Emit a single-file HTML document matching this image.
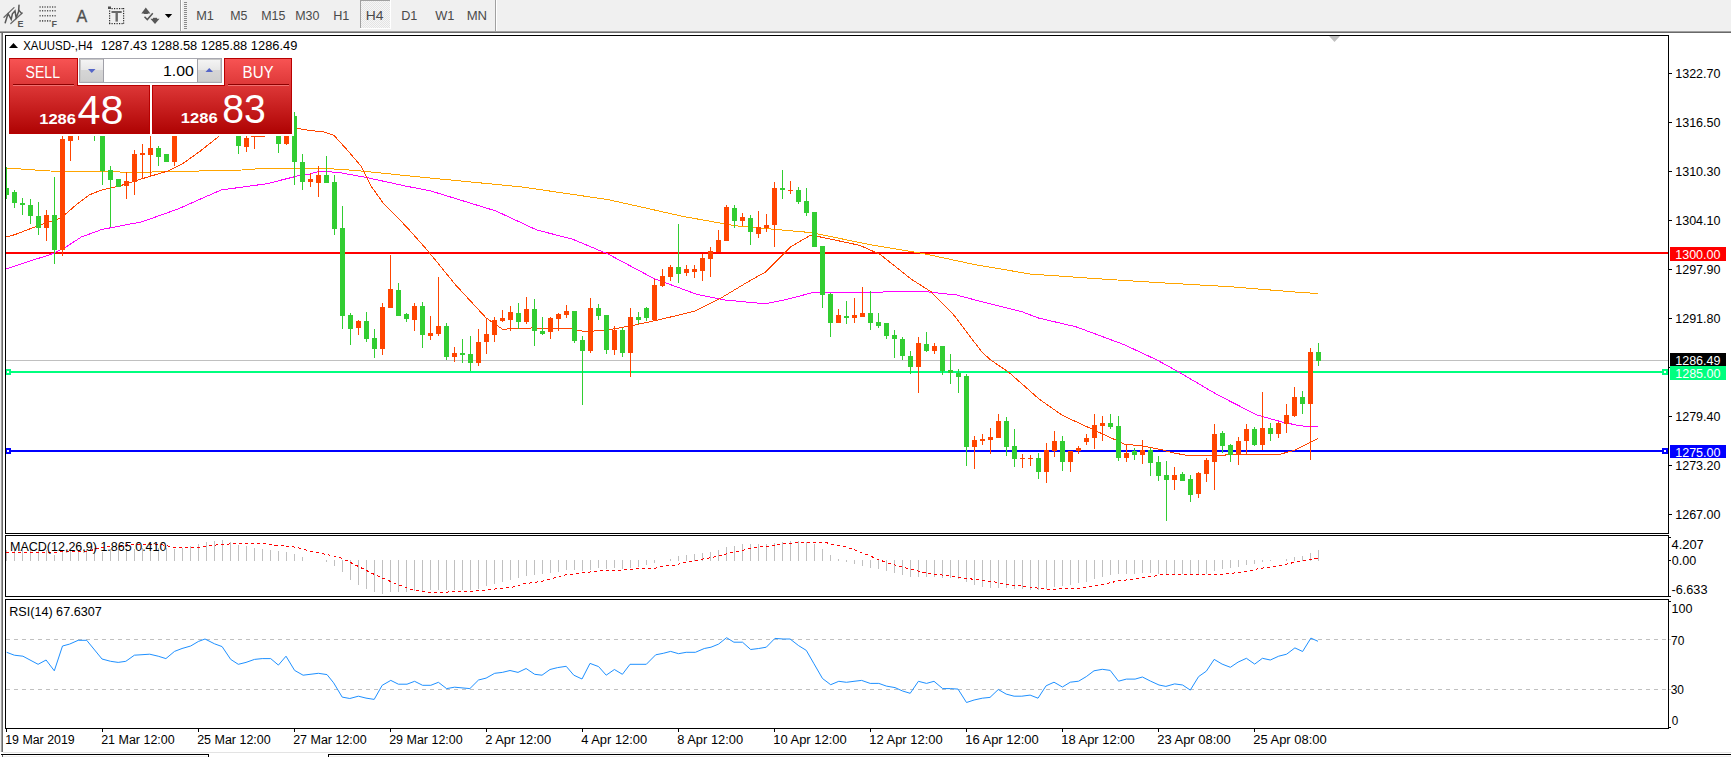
<!DOCTYPE html><html><head><meta charset="utf-8"><style>html,body{margin:0;padding:0;width:1731px;height:757px;overflow:hidden;background:#fff;}</style></head><body><svg width="1731" height="757" viewBox="0 0 1731 757" style="position:absolute;left:0;top:0;font-family:'Liberation Sans', sans-serif">
<defs><linearGradient id="rg" gradientUnits="userSpaceOnUse" x1="0" y1="58" x2="0" y2="134"><stop offset="0" stop-color="#f85454"/><stop offset="0.35" stop-color="#de3838"/><stop offset="1" stop-color="#ae0202"/></linearGradient><linearGradient id="bg" x1="0" y1="0" x2="0" y2="1"><stop offset="0" stop-color="#f4f4f4"/><stop offset="0.5" stop-color="#e6e6e6"/><stop offset="0.5" stop-color="#d6d6d6"/><stop offset="1" stop-color="#cfcfcf"/></linearGradient><pattern id="chk" width="2" height="2" patternUnits="userSpaceOnUse"><rect width="2" height="2" fill="#f6f6f6"/><rect width="1" height="1" fill="#e4e4e4"/><rect x="1" y="1" width="1" height="1" fill="#e4e4e4"/></pattern><clipPath id="cm"><rect x="6" y="36" width="1662" height="497"/></clipPath><clipPath id="cd"><rect x="6" y="536" width="1662" height="60"/></clipPath><clipPath id="cr"><rect x="6" y="600" width="1662" height="128"/></clipPath></defs>
<rect x="0" y="0" width="1731" height="757" fill="#ffffff"/>
<g shape-rendering="crispEdges">
<rect x="0" y="0" width="1731" height="31" fill="#f0f0f0"/>
<rect x="0" y="31" width="1731" height="1" fill="#a0a0a0"/>
<rect x="0" y="32" width="1731" height="1" fill="#696969"/>
<rect x="0" y="33" width="1" height="719" fill="#f0f0f0"/>
<rect x="1" y="33" width="1" height="719" fill="#a0a0a0"/>
<rect x="2" y="33" width="1" height="719" fill="#696969"/>
<rect x="3" y="752" width="1728" height="1" fill="#e3e3e3"/>
<rect x="1" y="754" width="208" height="1" fill="#000"/>
<rect x="208" y="754" width="1" height="3" fill="#000"/>
<rect x="3" y="756" width="205" height="1" fill="#f0f0f0"/>
<rect x="2" y="755" width="1" height="2" fill="#696969"/>
<rect x="328" y="754" width="1403" height="1" fill="#000"/>
<rect x="328" y="754" width="1" height="3" fill="#000"/>
<rect x="330" y="756" width="1401" height="1" fill="#f0f0f0"/>
<rect x="180" y="0" width="1" height="31" fill="#a0a0a0"/><rect x="181" y="0" width="1" height="31" fill="#ffffff"/>
<rect x="184" y="2" width="3" height="1" fill="#8a8a8a"/>
<rect x="184" y="4" width="3" height="1" fill="#8a8a8a"/>
<rect x="184" y="6" width="3" height="1" fill="#8a8a8a"/>
<rect x="184" y="8" width="3" height="1" fill="#8a8a8a"/>
<rect x="184" y="10" width="3" height="1" fill="#8a8a8a"/>
<rect x="184" y="12" width="3" height="1" fill="#8a8a8a"/>
<rect x="184" y="14" width="3" height="1" fill="#8a8a8a"/>
<rect x="184" y="16" width="3" height="1" fill="#8a8a8a"/>
<rect x="184" y="18" width="3" height="1" fill="#8a8a8a"/>
<rect x="184" y="20" width="3" height="1" fill="#8a8a8a"/>
<rect x="184" y="22" width="3" height="1" fill="#8a8a8a"/>
<rect x="184" y="24" width="3" height="1" fill="#8a8a8a"/>
<rect x="184" y="26" width="3" height="1" fill="#8a8a8a"/>
<rect x="184" y="28" width="3" height="1" fill="#8a8a8a"/>
<rect x="495" y="0" width="1" height="31" fill="#a0a0a0"/><rect x="496" y="0" width="1" height="31" fill="#ffffff"/>
<rect x="360" y="0" width="31" height="29" fill="url(#chk)"/>
<rect x="360" y="0" width="31" height="1" fill="#a0a0a0"/><rect x="360" y="0" width="1" height="29" fill="#a0a0a0"/>
<rect x="390" y="0" width="1" height="29" fill="#ffffff"/><rect x="360" y="28" width="31" height="1" fill="#ffffff"/>
</g>
<text x="196.2" y="20.0" font-size="12.5" fill="#4a4a4a" textLength="17.7" lengthAdjust="spacingAndGlyphs">M1</text>
<text x="230.2" y="20.0" font-size="12.5" fill="#4a4a4a" textLength="17.2" lengthAdjust="spacingAndGlyphs">M5</text>
<text x="261.2" y="20.0" font-size="12.5" fill="#4a4a4a" textLength="24.2" lengthAdjust="spacingAndGlyphs">M15</text>
<text x="295.2" y="20.0" font-size="12.5" fill="#4a4a4a" textLength="24.2" lengthAdjust="spacingAndGlyphs">M30</text>
<text x="333.2" y="20.0" font-size="12.5" fill="#4a4a4a" textLength="16.2" lengthAdjust="spacingAndGlyphs">H1</text>
<text x="365.7" y="20.0" font-size="12.5" fill="#4a4a4a" textLength="17.7" lengthAdjust="spacingAndGlyphs">H4</text>
<text x="401.2" y="20.0" font-size="12.5" fill="#4a4a4a" textLength="16.2" lengthAdjust="spacingAndGlyphs">D1</text>
<text x="435.2" y="20.0" font-size="12.5" fill="#4a4a4a" textLength="19.2" lengthAdjust="spacingAndGlyphs">W1</text>
<text x="466.7" y="20.0" font-size="12.5" fill="#4a4a4a" textLength="20.4" lengthAdjust="spacingAndGlyphs">MN</text>
<g stroke="#575757" fill="none" stroke-width="1.6" stroke-linecap="round"><line x1="4" y1="17.2" x2="14" y2="7.6" stroke-width="1.3" stroke="#6a6a6a"/><line x1="10.8" y1="23.6" x2="22.2" y2="13" stroke-width="1.3" stroke="#6a6a6a"/><polyline points="5.2,22.8 7.3,16 8.2,14 11.2,19.3 12.4,13.8 15,11 16.1,17.8 18.6,11.5 19,5.3" stroke-width="1.5"/><line x1="18.6" y1="10" x2="21.6" y2="13.4" stroke-width="1.4"/></g>
<text x="17.6" y="27" font-size="9" font-weight="bold" fill="#575757">E</text>
<line x1="39.5" y1="7" x2="56.5" y2="7" stroke="#575757" stroke-width="1.6" stroke-dasharray="1.2,1.3"/>
<line x1="39.5" y1="10.8" x2="56.5" y2="10.8" stroke="#575757" stroke-width="1.6" stroke-dasharray="1.2,1.3"/>
<line x1="39.5" y1="15.8" x2="56.5" y2="15.8" stroke="#575757" stroke-width="1.6" stroke-dasharray="1.2,1.3"/>
<line x1="39.5" y1="20.9" x2="51" y2="20.9" stroke="#575757" stroke-width="1.6" stroke-dasharray="1.2,1.3"/>
<text x="51.5" y="27" font-size="9" font-weight="bold" fill="#575757">F</text>
<text x="76.4" y="21.8" font-size="16" fill="#505050" stroke="#505050" stroke-width="0.35">A</text>
<rect x="109.0" y="23" width="1.2" height="1.2" fill="#2a2a2a"/>
<rect x="111.5" y="23" width="1.2" height="1.2" fill="#2a2a2a"/>
<rect x="111.5" y="8" width="1.2" height="1.2" fill="#2a2a2a"/>
<rect x="114.0" y="23" width="1.2" height="1.2" fill="#2a2a2a"/>
<rect x="114.0" y="8" width="1.2" height="1.2" fill="#2a2a2a"/>
<rect x="116.5" y="23" width="1.2" height="1.2" fill="#2a2a2a"/>
<rect x="116.5" y="8" width="1.2" height="1.2" fill="#2a2a2a"/>
<rect x="119.0" y="23" width="1.2" height="1.2" fill="#2a2a2a"/>
<rect x="119.0" y="8" width="1.2" height="1.2" fill="#2a2a2a"/>
<rect x="121.5" y="23" width="1.2" height="1.2" fill="#2a2a2a"/>
<rect x="121.5" y="8" width="1.2" height="1.2" fill="#2a2a2a"/>
<rect x="109" y="10.5" width="1.2" height="1.2" fill="#2a2a2a"/>
<rect x="123" y="10.5" width="1.2" height="1.2" fill="#2a2a2a"/>
<rect x="109" y="12.9" width="1.2" height="1.2" fill="#2a2a2a"/>
<rect x="123" y="12.9" width="1.2" height="1.2" fill="#2a2a2a"/>
<rect x="109" y="15.3" width="1.2" height="1.2" fill="#2a2a2a"/>
<rect x="123" y="15.3" width="1.2" height="1.2" fill="#2a2a2a"/>
<rect x="109" y="17.7" width="1.2" height="1.2" fill="#2a2a2a"/>
<rect x="123" y="17.7" width="1.2" height="1.2" fill="#2a2a2a"/>
<rect x="109" y="20.1" width="1.2" height="1.2" fill="#2a2a2a"/>
<rect x="123" y="20.1" width="1.2" height="1.2" fill="#2a2a2a"/>
<rect x="109" y="22.5" width="1.2" height="1.2" fill="#2a2a2a"/>
<rect x="123" y="22.5" width="1.2" height="1.2" fill="#2a2a2a"/>
<rect x="123" y="8" width="1.2" height="1.2" fill="#2a2a2a"/>
<rect x="108" y="6.5" width="3" height="2.5" fill="#505050"/>
<rect x="111.5" y="11" width="10.2" height="2" fill="#6a6a6a"/><rect x="115.5" y="12" width="2.4" height="9.6" fill="#6a6a6a"/>
<polygon points="141.3,13.5 145.8,7.6 150.4,13.5" fill="#575757"/><rect x="143.8" y="12.5" width="4" height="1.5" fill="#575757"/>
<polyline points="144.5,16.8 147.3,19.6 152.8,13.2" fill="none" stroke="#575757" stroke-width="1.5"/>
<polygon points="150.4,18.8 159.5,18.8 155,24" fill="#575757"/><rect x="153" y="17.8" width="4" height="1.5" fill="#575757"/>
<polygon points="164.8,14 172.2,14 168.5,18" fill="#000"/>
<g shape-rendering="crispEdges">
</g>
<g clip-path="url(#cm)">
<g shape-rendering="crispEdges">
<rect x="6" y="252" width="1662" height="2" fill="#ff0000"/>
<rect x="6" y="360" width="1662" height="1" fill="#c0c0c0"/>
<rect x="6" y="371" width="1662" height="2" fill="#00ff7f"/>
<rect x="6" y="450" width="1662" height="2" fill="#0000ff"/>
</g>
<g fill="none" stroke-width="1" shape-rendering="crispEdges">
<polyline points="6.0,168.0 50.0,171.0 107.0,171.6 132.0,172.4 178.0,171.5 225.0,170.4 242.0,170.0 258.0,168.8 331.0,168.8 356.0,170.5 430.0,178.0 521.5,186.9 608.0,199.6 684.0,216.6 735.0,225.7 811.0,232.6 870.0,244.6 923.5,253.6 974.4,264.5 1030.0,274.0 1101.5,279.0 1165.0,283.0 1228.6,286.6 1300.0,292.4 1318.0,293.5" stroke="#ffa500"/>
<polyline points="6.0,268.9 25.4,262.5 50.8,254.4 66.0,247.0 81.3,237.0 101.7,229.5 142.0,221.8 178.0,209.0 221.0,190.0 267.0,183.7 297.4,176.0 308.0,174.6 316.0,172.2 322.0,171.3 339.0,172.5 366.0,177.4 406.7,186.3 430.0,190.7 496.0,211.0 536.8,230.0 572.0,239.0 608.0,254.0 653.7,278.4 697.0,294.4 725.0,300.0 765.5,303.8 786.0,299.5 814.0,292.3 883.0,292.0 926.0,291.7 956.6,295.0 982.0,301.8 1022.7,312.0 1038.0,317.9 1076.0,326.8 1124.0,344.6 1157.0,360.0 1178.0,371.6 1217.3,394.7 1256.6,414.8 1282.0,422.0 1300.5,425.9 1318.0,426.6" stroke="#ff00ff"/>
<polyline points="6.0,237.0 15.0,234.6 38.0,225.7 61.0,218.0 76.0,205.0 89.0,195.0 101.7,190.0 119.5,186.0 134.7,181.0 152.5,175.6 167.8,171.0 183.0,163.4 200.8,150.7 220.0,135.4 250.0,126.0 296.0,128.3 307.0,130.0 315.0,131.0 323.6,131.8 333.8,135.2 345.0,147.5 361.0,166.0 371.0,186.0 383.8,204.0 406.7,227.0 428.0,251.0 455.4,284.7 486.0,317.8 502.4,329.2 531.7,328.0 572.0,329.0 585.0,331.7 608.0,330.0 633.0,325.4 658.8,319.8 694.0,311.4 722.0,297.4 747.7,282.0 765.5,272.0 791.0,246.6 811.0,235.0 841.8,241.5 860.0,245.4 880.0,254.3 911.0,279.0 931.0,291.7 954.0,315.3 982.0,352.2 990.8,360.0 1009.3,372.7 1039.4,399.3 1062.5,415.5 1092.5,429.3 1124.9,444.3 1143.3,446.0 1161.8,449.7 1171.0,452.4 1189.6,455.9 1209.2,455.9 1231.2,454.7 1279.7,454.3 1293.6,450.6 1318.0,438.6" stroke="#ff4500"/>
</g>
<g shape-rendering="crispEdges">
<rect x="6" y="167" width="1" height="32" fill="#32cd32"/>
<rect x="4" y="188" width="5" height="7" fill="#32cd32"/>
<rect x="14" y="190" width="1" height="18" fill="#32cd32"/>
<rect x="12" y="192" width="5" height="11" fill="#32cd32"/>
<rect x="22" y="198" width="1" height="17" fill="#32cd32"/>
<rect x="20" y="203" width="5" height="2" fill="#32cd32"/>
<rect x="30" y="199" width="1" height="25" fill="#32cd32"/>
<rect x="28" y="205" width="5" height="11" fill="#32cd32"/>
<rect x="38" y="202" width="1" height="33" fill="#32cd32"/>
<rect x="36" y="216" width="5" height="12" fill="#32cd32"/>
<rect x="46" y="210" width="1" height="31" fill="#ff4500"/>
<rect x="44" y="215" width="5" height="13" fill="#ff4500"/>
<rect x="54" y="177" width="1" height="87" fill="#32cd32"/>
<rect x="52" y="215" width="5" height="35" fill="#32cd32"/>
<rect x="62" y="120" width="1" height="136" fill="#ff4500"/>
<rect x="60" y="139" width="5" height="111" fill="#ff4500"/>
<rect x="70" y="120" width="1" height="41" fill="#ff4500"/>
<rect x="68" y="125" width="5" height="16" fill="#ff4500"/>
<rect x="78" y="120" width="1" height="20" fill="#ff4500"/>
<rect x="76" y="122" width="5" height="6" fill="#ff4500"/>
<rect x="94" y="120" width="1" height="21" fill="#32cd32"/>
<rect x="92" y="122" width="5" height="8" fill="#32cd32"/>
<rect x="102" y="125" width="1" height="60" fill="#32cd32"/>
<rect x="100" y="128" width="5" height="43" fill="#32cd32"/>
<rect x="110" y="166" width="1" height="61" fill="#32cd32"/>
<rect x="108" y="170" width="5" height="10" fill="#32cd32"/>
<rect x="118" y="179" width="1" height="8" fill="#32cd32"/>
<rect x="116" y="179" width="5" height="8" fill="#32cd32"/>
<rect x="126" y="172" width="1" height="27" fill="#ff4500"/>
<rect x="124" y="181" width="5" height="5" fill="#ff4500"/>
<rect x="134" y="150" width="1" height="45" fill="#ff4500"/>
<rect x="132" y="154" width="5" height="28" fill="#ff4500"/>
<rect x="142" y="144" width="1" height="35" fill="#ff4500"/>
<rect x="140" y="153" width="5" height="2" fill="#ff4500"/>
<rect x="150" y="136" width="1" height="41" fill="#ff4500"/>
<rect x="148" y="148" width="5" height="7" fill="#ff4500"/>
<rect x="158" y="146" width="1" height="20" fill="#32cd32"/>
<rect x="156" y="148" width="5" height="9" fill="#32cd32"/>
<rect x="166" y="154" width="1" height="8" fill="#32cd32"/>
<rect x="164" y="154" width="5" height="8" fill="#32cd32"/>
<rect x="174" y="130" width="1" height="36" fill="#ff4500"/>
<rect x="172" y="130" width="5" height="32" fill="#ff4500"/>
<rect x="238" y="125" width="1" height="29" fill="#32cd32"/>
<rect x="236" y="128" width="5" height="18" fill="#32cd32"/>
<rect x="246" y="136" width="1" height="16" fill="#ff4500"/>
<rect x="244" y="138" width="5" height="9" fill="#ff4500"/>
<rect x="254" y="120" width="1" height="29" fill="#ff4500"/>
<rect x="252" y="125" width="5" height="12" fill="#ff4500"/>
<rect x="262" y="120" width="1" height="16" fill="#ff4500"/>
<rect x="260" y="122" width="5" height="14" fill="#ff4500"/>
<rect x="278" y="125" width="1" height="28" fill="#32cd32"/>
<rect x="276" y="128" width="5" height="16" fill="#32cd32"/>
<rect x="286" y="125" width="1" height="20" fill="#ff4500"/>
<rect x="284" y="128" width="5" height="16" fill="#ff4500"/>
<rect x="294" y="112" width="1" height="73" fill="#32cd32"/>
<rect x="292" y="116" width="5" height="46" fill="#32cd32"/>
<rect x="302" y="154" width="1" height="36" fill="#32cd32"/>
<rect x="300" y="162" width="5" height="20" fill="#32cd32"/>
<rect x="310" y="173" width="1" height="14" fill="#ff4500"/>
<rect x="308" y="179" width="5" height="3" fill="#ff4500"/>
<rect x="318" y="166" width="1" height="31" fill="#ff4500"/>
<rect x="316" y="175" width="5" height="8" fill="#ff4500"/>
<rect x="326" y="156" width="1" height="27" fill="#32cd32"/>
<rect x="324" y="175" width="5" height="8" fill="#32cd32"/>
<rect x="334" y="175" width="1" height="60" fill="#32cd32"/>
<rect x="332" y="182" width="5" height="47" fill="#32cd32"/>
<rect x="342" y="206" width="1" height="123" fill="#32cd32"/>
<rect x="340" y="228" width="5" height="88" fill="#32cd32"/>
<rect x="350" y="313" width="1" height="32" fill="#32cd32"/>
<rect x="348" y="315" width="5" height="14" fill="#32cd32"/>
<rect x="358" y="320" width="1" height="15" fill="#ff4500"/>
<rect x="356" y="321" width="5" height="7" fill="#ff4500"/>
<rect x="366" y="312" width="1" height="30" fill="#32cd32"/>
<rect x="364" y="321" width="5" height="18" fill="#32cd32"/>
<rect x="374" y="329" width="1" height="29" fill="#32cd32"/>
<rect x="372" y="338" width="5" height="11" fill="#32cd32"/>
<rect x="382" y="303" width="1" height="52" fill="#ff4500"/>
<rect x="380" y="307" width="5" height="42" fill="#ff4500"/>
<rect x="390" y="255" width="1" height="53" fill="#ff4500"/>
<rect x="388" y="289" width="5" height="19" fill="#ff4500"/>
<rect x="398" y="283" width="1" height="33" fill="#32cd32"/>
<rect x="396" y="290" width="5" height="26" fill="#32cd32"/>
<rect x="406" y="313" width="1" height="9" fill="#32cd32"/>
<rect x="404" y="314" width="5" height="5" fill="#32cd32"/>
<rect x="414" y="303" width="1" height="28" fill="#ff4500"/>
<rect x="412" y="306" width="5" height="14" fill="#ff4500"/>
<rect x="422" y="302" width="1" height="46" fill="#32cd32"/>
<rect x="420" y="306" width="5" height="29" fill="#32cd32"/>
<rect x="430" y="316" width="1" height="24" fill="#ff4500"/>
<rect x="428" y="333" width="5" height="3" fill="#ff4500"/>
<rect x="438" y="277" width="1" height="59" fill="#ff4500"/>
<rect x="436" y="326" width="5" height="8" fill="#ff4500"/>
<rect x="446" y="323" width="1" height="37" fill="#32cd32"/>
<rect x="444" y="326" width="5" height="31" fill="#32cd32"/>
<rect x="454" y="347" width="1" height="15" fill="#ff4500"/>
<rect x="452" y="353" width="5" height="4" fill="#ff4500"/>
<rect x="462" y="339" width="1" height="24" fill="#32cd32"/>
<rect x="460" y="353" width="5" height="2" fill="#32cd32"/>
<rect x="470" y="336" width="1" height="35" fill="#32cd32"/>
<rect x="468" y="354" width="5" height="9" fill="#32cd32"/>
<rect x="478" y="329" width="1" height="37" fill="#ff4500"/>
<rect x="476" y="342" width="5" height="21" fill="#ff4500"/>
<rect x="486" y="319" width="1" height="35" fill="#ff4500"/>
<rect x="484" y="334" width="5" height="8" fill="#ff4500"/>
<rect x="494" y="317" width="1" height="25" fill="#ff4500"/>
<rect x="492" y="320" width="5" height="15" fill="#ff4500"/>
<rect x="502" y="310" width="1" height="12" fill="#ff4500"/>
<rect x="500" y="318" width="5" height="3" fill="#ff4500"/>
<rect x="510" y="306" width="1" height="25" fill="#ff4500"/>
<rect x="508" y="312" width="5" height="8" fill="#ff4500"/>
<rect x="518" y="303" width="1" height="26" fill="#32cd32"/>
<rect x="516" y="313" width="5" height="9" fill="#32cd32"/>
<rect x="526" y="297" width="1" height="27" fill="#ff4500"/>
<rect x="524" y="309" width="5" height="13" fill="#ff4500"/>
<rect x="534" y="299" width="1" height="47" fill="#32cd32"/>
<rect x="532" y="309" width="5" height="22" fill="#32cd32"/>
<rect x="542" y="317" width="1" height="18" fill="#32cd32"/>
<rect x="540" y="331" width="5" height="3" fill="#32cd32"/>
<rect x="550" y="317" width="1" height="22" fill="#ff4500"/>
<rect x="548" y="318" width="5" height="14" fill="#ff4500"/>
<rect x="558" y="313" width="1" height="18" fill="#ff4500"/>
<rect x="556" y="314" width="5" height="5" fill="#ff4500"/>
<rect x="566" y="305" width="1" height="13" fill="#ff4500"/>
<rect x="564" y="311" width="5" height="4" fill="#ff4500"/>
<rect x="574" y="311" width="1" height="32" fill="#32cd32"/>
<rect x="572" y="311" width="5" height="30" fill="#32cd32"/>
<rect x="582" y="336" width="1" height="69" fill="#32cd32"/>
<rect x="580" y="340" width="5" height="11" fill="#32cd32"/>
<rect x="590" y="298" width="1" height="55" fill="#ff4500"/>
<rect x="588" y="308" width="5" height="43" fill="#ff4500"/>
<rect x="598" y="304" width="1" height="16" fill="#32cd32"/>
<rect x="596" y="308" width="5" height="8" fill="#32cd32"/>
<rect x="606" y="315" width="1" height="39" fill="#32cd32"/>
<rect x="604" y="315" width="5" height="35" fill="#32cd32"/>
<rect x="614" y="326" width="1" height="29" fill="#ff4500"/>
<rect x="612" y="330" width="5" height="20" fill="#ff4500"/>
<rect x="622" y="328" width="1" height="29" fill="#32cd32"/>
<rect x="620" y="330" width="5" height="23" fill="#32cd32"/>
<rect x="630" y="308" width="1" height="69" fill="#ff4500"/>
<rect x="628" y="317" width="5" height="36" fill="#ff4500"/>
<rect x="638" y="312" width="1" height="12" fill="#32cd32"/>
<rect x="636" y="317" width="5" height="3" fill="#32cd32"/>
<rect x="646" y="307" width="1" height="14" fill="#32cd32"/>
<rect x="644" y="308" width="5" height="10" fill="#32cd32"/>
<rect x="654" y="279" width="1" height="41" fill="#ff4500"/>
<rect x="652" y="285" width="5" height="35" fill="#ff4500"/>
<rect x="662" y="269" width="1" height="18" fill="#ff4500"/>
<rect x="660" y="276" width="5" height="10" fill="#ff4500"/>
<rect x="670" y="265" width="1" height="16" fill="#ff4500"/>
<rect x="668" y="267" width="5" height="10" fill="#ff4500"/>
<rect x="678" y="224" width="1" height="59" fill="#32cd32"/>
<rect x="676" y="267" width="5" height="7" fill="#32cd32"/>
<rect x="686" y="265" width="1" height="11" fill="#ff4500"/>
<rect x="684" y="269" width="5" height="4" fill="#ff4500"/>
<rect x="694" y="265" width="1" height="13" fill="#ff4500"/>
<rect x="692" y="269" width="5" height="3" fill="#ff4500"/>
<rect x="702" y="254" width="1" height="27" fill="#ff4500"/>
<rect x="700" y="258" width="5" height="13" fill="#ff4500"/>
<rect x="710" y="247" width="1" height="30" fill="#ff4500"/>
<rect x="708" y="251" width="5" height="8" fill="#ff4500"/>
<rect x="718" y="230" width="1" height="22" fill="#ff4500"/>
<rect x="716" y="240" width="5" height="12" fill="#ff4500"/>
<rect x="726" y="205" width="1" height="36" fill="#ff4500"/>
<rect x="724" y="207" width="5" height="34" fill="#ff4500"/>
<rect x="734" y="205" width="1" height="23" fill="#32cd32"/>
<rect x="732" y="208" width="5" height="13" fill="#32cd32"/>
<rect x="742" y="213" width="1" height="13" fill="#ff4500"/>
<rect x="740" y="217" width="5" height="4" fill="#ff4500"/>
<rect x="750" y="215" width="1" height="30" fill="#32cd32"/>
<rect x="748" y="218" width="5" height="14" fill="#32cd32"/>
<rect x="758" y="211" width="1" height="27" fill="#ff4500"/>
<rect x="756" y="227" width="5" height="7" fill="#ff4500"/>
<rect x="766" y="214" width="1" height="18" fill="#ff4500"/>
<rect x="764" y="225" width="5" height="3" fill="#ff4500"/>
<rect x="774" y="182" width="1" height="65" fill="#ff4500"/>
<rect x="772" y="188" width="5" height="37" fill="#ff4500"/>
<rect x="782" y="170" width="1" height="29" fill="#32cd32"/>
<rect x="780" y="188" width="5" height="2" fill="#32cd32"/>
<rect x="790" y="181" width="1" height="13" fill="#ff4500"/>
<rect x="788" y="190" width="5" height="1" fill="#ff4500"/>
<rect x="798" y="187" width="1" height="17" fill="#32cd32"/>
<rect x="796" y="190" width="5" height="12" fill="#32cd32"/>
<rect x="806" y="188" width="1" height="28" fill="#32cd32"/>
<rect x="804" y="201" width="5" height="12" fill="#32cd32"/>
<rect x="814" y="212" width="1" height="35" fill="#32cd32"/>
<rect x="812" y="212" width="5" height="35" fill="#32cd32"/>
<rect x="822" y="246" width="1" height="62" fill="#32cd32"/>
<rect x="820" y="246" width="5" height="49" fill="#32cd32"/>
<rect x="830" y="293" width="1" height="44" fill="#32cd32"/>
<rect x="828" y="294" width="5" height="29" fill="#32cd32"/>
<rect x="838" y="309" width="1" height="14" fill="#ff4500"/>
<rect x="836" y="315" width="5" height="8" fill="#ff4500"/>
<rect x="846" y="301" width="1" height="23" fill="#32cd32"/>
<rect x="844" y="316" width="5" height="2" fill="#32cd32"/>
<rect x="854" y="298" width="1" height="25" fill="#ff4500"/>
<rect x="852" y="315" width="5" height="3" fill="#ff4500"/>
<rect x="862" y="287" width="1" height="30" fill="#ff4500"/>
<rect x="860" y="313" width="5" height="4" fill="#ff4500"/>
<rect x="870" y="291" width="1" height="39" fill="#32cd32"/>
<rect x="868" y="313" width="5" height="10" fill="#32cd32"/>
<rect x="878" y="313" width="1" height="15" fill="#32cd32"/>
<rect x="876" y="322" width="5" height="4" fill="#32cd32"/>
<rect x="886" y="323" width="1" height="16" fill="#32cd32"/>
<rect x="884" y="323" width="5" height="13" fill="#32cd32"/>
<rect x="894" y="330" width="1" height="28" fill="#32cd32"/>
<rect x="892" y="335" width="5" height="4" fill="#32cd32"/>
<rect x="902" y="337" width="1" height="23" fill="#32cd32"/>
<rect x="900" y="339" width="5" height="17" fill="#32cd32"/>
<rect x="910" y="351" width="1" height="23" fill="#32cd32"/>
<rect x="908" y="356" width="5" height="11" fill="#32cd32"/>
<rect x="918" y="337" width="1" height="56" fill="#ff4500"/>
<rect x="916" y="343" width="5" height="24" fill="#ff4500"/>
<rect x="926" y="332" width="1" height="20" fill="#32cd32"/>
<rect x="924" y="344" width="5" height="7" fill="#32cd32"/>
<rect x="934" y="343" width="1" height="11" fill="#ff4500"/>
<rect x="932" y="346" width="5" height="5" fill="#ff4500"/>
<rect x="942" y="346" width="1" height="29" fill="#32cd32"/>
<rect x="940" y="346" width="5" height="25" fill="#32cd32"/>
<rect x="950" y="354" width="1" height="30" fill="#32cd32"/>
<rect x="948" y="370" width="5" height="3" fill="#32cd32"/>
<rect x="958" y="369" width="1" height="24" fill="#32cd32"/>
<rect x="956" y="373" width="5" height="4" fill="#32cd32"/>
<rect x="966" y="374" width="1" height="92" fill="#32cd32"/>
<rect x="964" y="376" width="5" height="71" fill="#32cd32"/>
<rect x="974" y="436" width="1" height="33" fill="#ff4500"/>
<rect x="972" y="440" width="5" height="7" fill="#ff4500"/>
<rect x="982" y="434" width="1" height="11" fill="#ff4500"/>
<rect x="980" y="439" width="5" height="2" fill="#ff4500"/>
<rect x="990" y="428" width="1" height="26" fill="#ff4500"/>
<rect x="988" y="437" width="5" height="3" fill="#ff4500"/>
<rect x="998" y="414" width="1" height="24" fill="#ff4500"/>
<rect x="996" y="421" width="5" height="17" fill="#ff4500"/>
<rect x="1006" y="417" width="1" height="39" fill="#32cd32"/>
<rect x="1004" y="421" width="5" height="26" fill="#32cd32"/>
<rect x="1014" y="429" width="1" height="38" fill="#32cd32"/>
<rect x="1012" y="446" width="5" height="13" fill="#32cd32"/>
<rect x="1022" y="454" width="1" height="14" fill="#ff4500"/>
<rect x="1020" y="458" width="5" height="1" fill="#ff4500"/>
<rect x="1030" y="455" width="1" height="11" fill="#ff4500"/>
<rect x="1028" y="458" width="5" height="1" fill="#ff4500"/>
<rect x="1038" y="453" width="1" height="26" fill="#32cd32"/>
<rect x="1036" y="458" width="5" height="14" fill="#32cd32"/>
<rect x="1046" y="443" width="1" height="40" fill="#ff4500"/>
<rect x="1044" y="450" width="5" height="22" fill="#ff4500"/>
<rect x="1054" y="431" width="1" height="26" fill="#ff4500"/>
<rect x="1052" y="441" width="5" height="10" fill="#ff4500"/>
<rect x="1062" y="436" width="1" height="35" fill="#32cd32"/>
<rect x="1060" y="441" width="5" height="21" fill="#32cd32"/>
<rect x="1070" y="451" width="1" height="21" fill="#ff4500"/>
<rect x="1068" y="451" width="5" height="11" fill="#ff4500"/>
<rect x="1078" y="446" width="1" height="8" fill="#ff4500"/>
<rect x="1076" y="448" width="5" height="3" fill="#ff4500"/>
<rect x="1086" y="434" width="1" height="11" fill="#ff4500"/>
<rect x="1084" y="438" width="5" height="4" fill="#ff4500"/>
<rect x="1094" y="414" width="1" height="35" fill="#ff4500"/>
<rect x="1092" y="425" width="5" height="13" fill="#ff4500"/>
<rect x="1102" y="416" width="1" height="25" fill="#ff4500"/>
<rect x="1100" y="423" width="5" height="3" fill="#ff4500"/>
<rect x="1110" y="414" width="1" height="15" fill="#32cd32"/>
<rect x="1108" y="423" width="5" height="4" fill="#32cd32"/>
<rect x="1118" y="416" width="1" height="45" fill="#32cd32"/>
<rect x="1116" y="426" width="5" height="32" fill="#32cd32"/>
<rect x="1126" y="445" width="1" height="17" fill="#ff4500"/>
<rect x="1124" y="453" width="5" height="5" fill="#ff4500"/>
<rect x="1134" y="448" width="1" height="12" fill="#32cd32"/>
<rect x="1132" y="451" width="5" height="4" fill="#32cd32"/>
<rect x="1142" y="440" width="1" height="24" fill="#ff4500"/>
<rect x="1140" y="450" width="5" height="5" fill="#ff4500"/>
<rect x="1150" y="448" width="1" height="28" fill="#32cd32"/>
<rect x="1148" y="450" width="5" height="13" fill="#32cd32"/>
<rect x="1158" y="456" width="1" height="25" fill="#32cd32"/>
<rect x="1156" y="462" width="5" height="14" fill="#32cd32"/>
<rect x="1166" y="461" width="1" height="60" fill="#32cd32"/>
<rect x="1164" y="475" width="5" height="5" fill="#32cd32"/>
<rect x="1174" y="467" width="1" height="23" fill="#ff4500"/>
<rect x="1172" y="475" width="5" height="5" fill="#ff4500"/>
<rect x="1182" y="472" width="1" height="9" fill="#32cd32"/>
<rect x="1180" y="474" width="5" height="7" fill="#32cd32"/>
<rect x="1190" y="475" width="1" height="27" fill="#32cd32"/>
<rect x="1188" y="479" width="5" height="16" fill="#32cd32"/>
<rect x="1198" y="472" width="1" height="26" fill="#ff4500"/>
<rect x="1196" y="473" width="5" height="21" fill="#ff4500"/>
<rect x="1206" y="458" width="1" height="24" fill="#ff4500"/>
<rect x="1204" y="460" width="5" height="14" fill="#ff4500"/>
<rect x="1214" y="424" width="1" height="66" fill="#ff4500"/>
<rect x="1212" y="434" width="5" height="28" fill="#ff4500"/>
<rect x="1222" y="431" width="1" height="22" fill="#32cd32"/>
<rect x="1220" y="433" width="5" height="13" fill="#32cd32"/>
<rect x="1230" y="444" width="1" height="18" fill="#32cd32"/>
<rect x="1228" y="445" width="5" height="10" fill="#32cd32"/>
<rect x="1238" y="437" width="1" height="28" fill="#ff4500"/>
<rect x="1236" y="441" width="5" height="14" fill="#ff4500"/>
<rect x="1246" y="424" width="1" height="30" fill="#ff4500"/>
<rect x="1244" y="429" width="5" height="12" fill="#ff4500"/>
<rect x="1254" y="427" width="1" height="19" fill="#32cd32"/>
<rect x="1252" y="429" width="5" height="16" fill="#32cd32"/>
<rect x="1262" y="392" width="1" height="58" fill="#ff4500"/>
<rect x="1260" y="428" width="5" height="17" fill="#ff4500"/>
<rect x="1270" y="423" width="1" height="18" fill="#32cd32"/>
<rect x="1268" y="428" width="5" height="6" fill="#32cd32"/>
<rect x="1278" y="422" width="1" height="16" fill="#ff4500"/>
<rect x="1276" y="423" width="5" height="11" fill="#ff4500"/>
<rect x="1286" y="404" width="1" height="29" fill="#ff4500"/>
<rect x="1284" y="415" width="5" height="9" fill="#ff4500"/>
<rect x="1294" y="387" width="1" height="30" fill="#ff4500"/>
<rect x="1292" y="397" width="5" height="19" fill="#ff4500"/>
<rect x="1302" y="391" width="1" height="23" fill="#32cd32"/>
<rect x="1300" y="397" width="5" height="7" fill="#32cd32"/>
<rect x="1310" y="348" width="1" height="112" fill="#ff4500"/>
<rect x="1308" y="352" width="5" height="52" fill="#ff4500"/>
<rect x="1318" y="343" width="1" height="23" fill="#32cd32"/>
<rect x="1316" y="352" width="5" height="9" fill="#32cd32"/>
</g>
<rect x="251" y="136" width="14" height="1" fill="#ff4500" shape-rendering="crispEdges"/>
<g shape-rendering="crispEdges">
<rect x="5" y="369" width="6" height="6" fill="#00ff7f"/><rect x="7" y="371" width="2" height="2" fill="#fff"/>
<rect x="1662" y="369" width="6" height="6" fill="#00ff7f"/><rect x="1664" y="371" width="2" height="2" fill="#fff"/>
<rect x="5" y="448" width="6" height="6" fill="#0000ff"/><rect x="7" y="450" width="2" height="2" fill="#fff"/>
<rect x="1662" y="448" width="6" height="6" fill="#0000ff"/><rect x="1664" y="450" width="2" height="2" fill="#fff"/>
</g>
<rect x="6" y="53" width="288" height="83" fill="#fff" shape-rendering="crispEdges"/>
</g>
<g clip-path="url(#cd)">
<g shape-rendering="crispEdges">
<rect x="6" y="550" width="1" height="11" fill="#c0c0c0"/>
<rect x="14" y="550" width="1" height="11" fill="#c0c0c0"/>
<rect x="22" y="550" width="1" height="11" fill="#c0c0c0"/>
<rect x="30" y="550" width="1" height="11" fill="#c0c0c0"/>
<rect x="38" y="550" width="1" height="11" fill="#c0c0c0"/>
<rect x="46" y="550" width="1" height="11" fill="#c0c0c0"/>
<rect x="54" y="555" width="1" height="6" fill="#c0c0c0"/>
<rect x="62" y="550" width="1" height="11" fill="#c0c0c0"/>
<rect x="70" y="550" width="1" height="11" fill="#c0c0c0"/>
<rect x="78" y="550" width="1" height="11" fill="#c0c0c0"/>
<rect x="86" y="550" width="1" height="11" fill="#c0c0c0"/>
<rect x="94" y="548" width="1" height="13" fill="#c0c0c0"/>
<rect x="102" y="552" width="1" height="9" fill="#c0c0c0"/>
<rect x="110" y="549" width="1" height="12" fill="#c0c0c0"/>
<rect x="118" y="549" width="1" height="12" fill="#c0c0c0"/>
<rect x="126" y="549" width="1" height="12" fill="#c0c0c0"/>
<rect x="134" y="549" width="1" height="12" fill="#c0c0c0"/>
<rect x="142" y="548" width="1" height="13" fill="#c0c0c0"/>
<rect x="150" y="549" width="1" height="12" fill="#c0c0c0"/>
<rect x="158" y="548" width="1" height="13" fill="#c0c0c0"/>
<rect x="166" y="548" width="1" height="13" fill="#c0c0c0"/>
<rect x="174" y="549" width="1" height="12" fill="#c0c0c0"/>
<rect x="182" y="548" width="1" height="13" fill="#c0c0c0"/>
<rect x="190" y="546" width="1" height="15" fill="#c0c0c0"/>
<rect x="198" y="544" width="1" height="17" fill="#c0c0c0"/>
<rect x="206" y="542" width="1" height="19" fill="#c0c0c0"/>
<rect x="214" y="541" width="1" height="20" fill="#c0c0c0"/>
<rect x="222" y="540" width="1" height="21" fill="#c0c0c0"/>
<rect x="230" y="542" width="1" height="19" fill="#c0c0c0"/>
<rect x="238" y="545" width="1" height="16" fill="#c0c0c0"/>
<rect x="246" y="546" width="1" height="15" fill="#c0c0c0"/>
<rect x="254" y="548" width="1" height="13" fill="#c0c0c0"/>
<rect x="262" y="549" width="1" height="12" fill="#c0c0c0"/>
<rect x="270" y="550" width="1" height="11" fill="#c0c0c0"/>
<rect x="278" y="551" width="1" height="10" fill="#c0c0c0"/>
<rect x="286" y="552" width="1" height="9" fill="#c0c0c0"/>
<rect x="294" y="554" width="1" height="7" fill="#c0c0c0"/>
<rect x="302" y="557" width="1" height="4" fill="#c0c0c0"/>
<rect x="326" y="560" width="1" height="2" fill="#c0c0c0"/>
<rect x="334" y="560" width="1" height="6" fill="#c0c0c0"/>
<rect x="342" y="560" width="1" height="12" fill="#c0c0c0"/>
<rect x="350" y="560" width="1" height="20" fill="#c0c0c0"/>
<rect x="358" y="560" width="1" height="25" fill="#c0c0c0"/>
<rect x="366" y="560" width="1" height="29" fill="#c0c0c0"/>
<rect x="374" y="560" width="1" height="32" fill="#c0c0c0"/>
<rect x="382" y="560" width="1" height="34" fill="#c0c0c0"/>
<rect x="390" y="560" width="1" height="32" fill="#c0c0c0"/>
<rect x="398" y="560" width="1" height="32" fill="#c0c0c0"/>
<rect x="406" y="560" width="1" height="32" fill="#c0c0c0"/>
<rect x="414" y="560" width="1" height="31" fill="#c0c0c0"/>
<rect x="422" y="560" width="1" height="31" fill="#c0c0c0"/>
<rect x="430" y="560" width="1" height="30" fill="#c0c0c0"/>
<rect x="438" y="560" width="1" height="30" fill="#c0c0c0"/>
<rect x="446" y="560" width="1" height="30" fill="#c0c0c0"/>
<rect x="454" y="560" width="1" height="30" fill="#c0c0c0"/>
<rect x="462" y="560" width="1" height="30" fill="#c0c0c0"/>
<rect x="470" y="560" width="1" height="30" fill="#c0c0c0"/>
<rect x="478" y="560" width="1" height="29" fill="#c0c0c0"/>
<rect x="486" y="560" width="1" height="26" fill="#c0c0c0"/>
<rect x="494" y="560" width="1" height="24" fill="#c0c0c0"/>
<rect x="502" y="560" width="1" height="22" fill="#c0c0c0"/>
<rect x="510" y="560" width="1" height="20" fill="#c0c0c0"/>
<rect x="518" y="560" width="1" height="18" fill="#c0c0c0"/>
<rect x="526" y="560" width="1" height="16" fill="#c0c0c0"/>
<rect x="534" y="560" width="1" height="15" fill="#c0c0c0"/>
<rect x="542" y="560" width="1" height="14" fill="#c0c0c0"/>
<rect x="550" y="560" width="1" height="13" fill="#c0c0c0"/>
<rect x="558" y="560" width="1" height="12" fill="#c0c0c0"/>
<rect x="566" y="560" width="1" height="10" fill="#c0c0c0"/>
<rect x="574" y="560" width="1" height="10" fill="#c0c0c0"/>
<rect x="582" y="560" width="1" height="11" fill="#c0c0c0"/>
<rect x="590" y="560" width="1" height="10" fill="#c0c0c0"/>
<rect x="598" y="560" width="1" height="8" fill="#c0c0c0"/>
<rect x="606" y="560" width="1" height="9" fill="#c0c0c0"/>
<rect x="614" y="560" width="1" height="8" fill="#c0c0c0"/>
<rect x="622" y="560" width="1" height="9" fill="#c0c0c0"/>
<rect x="630" y="560" width="1" height="8" fill="#c0c0c0"/>
<rect x="638" y="560" width="1" height="7" fill="#c0c0c0"/>
<rect x="646" y="560" width="1" height="5" fill="#c0c0c0"/>
<rect x="654" y="560" width="1" height="3" fill="#c0c0c0"/>
<rect x="670" y="559" width="1" height="2" fill="#c0c0c0"/>
<rect x="678" y="556" width="1" height="5" fill="#c0c0c0"/>
<rect x="686" y="555" width="1" height="6" fill="#c0c0c0"/>
<rect x="694" y="554" width="1" height="7" fill="#c0c0c0"/>
<rect x="702" y="553" width="1" height="8" fill="#c0c0c0"/>
<rect x="710" y="552" width="1" height="9" fill="#c0c0c0"/>
<rect x="718" y="550" width="1" height="11" fill="#c0c0c0"/>
<rect x="726" y="547" width="1" height="14" fill="#c0c0c0"/>
<rect x="734" y="546" width="1" height="15" fill="#c0c0c0"/>
<rect x="742" y="544" width="1" height="17" fill="#c0c0c0"/>
<rect x="750" y="544" width="1" height="17" fill="#c0c0c0"/>
<rect x="758" y="544" width="1" height="17" fill="#c0c0c0"/>
<rect x="766" y="544" width="1" height="17" fill="#c0c0c0"/>
<rect x="774" y="543" width="1" height="18" fill="#c0c0c0"/>
<rect x="782" y="542" width="1" height="19" fill="#c0c0c0"/>
<rect x="790" y="541" width="1" height="20" fill="#c0c0c0"/>
<rect x="798" y="541" width="1" height="20" fill="#c0c0c0"/>
<rect x="806" y="542" width="1" height="19" fill="#c0c0c0"/>
<rect x="814" y="544" width="1" height="17" fill="#c0c0c0"/>
<rect x="822" y="549" width="1" height="12" fill="#c0c0c0"/>
<rect x="830" y="555" width="1" height="6" fill="#c0c0c0"/>
<rect x="838" y="559" width="1" height="2" fill="#c0c0c0"/>
<rect x="846" y="560" width="1" height="2" fill="#c0c0c0"/>
<rect x="854" y="560" width="1" height="4" fill="#c0c0c0"/>
<rect x="862" y="560" width="1" height="6" fill="#c0c0c0"/>
<rect x="870" y="560" width="1" height="8" fill="#c0c0c0"/>
<rect x="878" y="560" width="1" height="9" fill="#c0c0c0"/>
<rect x="886" y="560" width="1" height="11" fill="#c0c0c0"/>
<rect x="894" y="560" width="1" height="13" fill="#c0c0c0"/>
<rect x="902" y="560" width="1" height="15" fill="#c0c0c0"/>
<rect x="910" y="560" width="1" height="17" fill="#c0c0c0"/>
<rect x="918" y="560" width="1" height="17" fill="#c0c0c0"/>
<rect x="926" y="560" width="1" height="17" fill="#c0c0c0"/>
<rect x="934" y="560" width="1" height="17" fill="#c0c0c0"/>
<rect x="942" y="560" width="1" height="18" fill="#c0c0c0"/>
<rect x="950" y="560" width="1" height="18" fill="#c0c0c0"/>
<rect x="958" y="560" width="1" height="19" fill="#c0c0c0"/>
<rect x="966" y="560" width="1" height="22" fill="#c0c0c0"/>
<rect x="974" y="560" width="1" height="25" fill="#c0c0c0"/>
<rect x="982" y="560" width="1" height="27" fill="#c0c0c0"/>
<rect x="990" y="560" width="1" height="28" fill="#c0c0c0"/>
<rect x="998" y="560" width="1" height="28" fill="#c0c0c0"/>
<rect x="1006" y="560" width="1" height="28" fill="#c0c0c0"/>
<rect x="1014" y="560" width="1" height="29" fill="#c0c0c0"/>
<rect x="1022" y="560" width="1" height="29" fill="#c0c0c0"/>
<rect x="1030" y="560" width="1" height="30" fill="#c0c0c0"/>
<rect x="1038" y="560" width="1" height="30" fill="#c0c0c0"/>
<rect x="1046" y="560" width="1" height="29" fill="#c0c0c0"/>
<rect x="1054" y="560" width="1" height="27" fill="#c0c0c0"/>
<rect x="1062" y="560" width="1" height="26" fill="#c0c0c0"/>
<rect x="1070" y="560" width="1" height="25" fill="#c0c0c0"/>
<rect x="1078" y="560" width="1" height="23" fill="#c0c0c0"/>
<rect x="1086" y="560" width="1" height="22" fill="#c0c0c0"/>
<rect x="1094" y="560" width="1" height="19" fill="#c0c0c0"/>
<rect x="1102" y="560" width="1" height="17" fill="#c0c0c0"/>
<rect x="1110" y="560" width="1" height="15" fill="#c0c0c0"/>
<rect x="1118" y="560" width="1" height="14" fill="#c0c0c0"/>
<rect x="1126" y="560" width="1" height="14" fill="#c0c0c0"/>
<rect x="1134" y="560" width="1" height="14" fill="#c0c0c0"/>
<rect x="1142" y="560" width="1" height="13" fill="#c0c0c0"/>
<rect x="1150" y="560" width="1" height="13" fill="#c0c0c0"/>
<rect x="1158" y="560" width="1" height="14" fill="#c0c0c0"/>
<rect x="1166" y="560" width="1" height="15" fill="#c0c0c0"/>
<rect x="1174" y="560" width="1" height="15" fill="#c0c0c0"/>
<rect x="1182" y="560" width="1" height="14" fill="#c0c0c0"/>
<rect x="1190" y="560" width="1" height="15" fill="#c0c0c0"/>
<rect x="1198" y="560" width="1" height="15" fill="#c0c0c0"/>
<rect x="1206" y="560" width="1" height="14" fill="#c0c0c0"/>
<rect x="1214" y="560" width="1" height="11" fill="#c0c0c0"/>
<rect x="1222" y="560" width="1" height="9" fill="#c0c0c0"/>
<rect x="1230" y="560" width="1" height="8" fill="#c0c0c0"/>
<rect x="1238" y="560" width="1" height="7" fill="#c0c0c0"/>
<rect x="1246" y="560" width="1" height="5" fill="#c0c0c0"/>
<rect x="1254" y="560" width="1" height="4" fill="#c0c0c0"/>
<rect x="1262" y="560" width="1" height="2" fill="#c0c0c0"/>
<rect x="1270" y="560" width="1" height="1" fill="#c0c0c0"/>
<rect x="1286" y="559" width="1" height="2" fill="#c0c0c0"/>
<rect x="1294" y="557" width="1" height="4" fill="#c0c0c0"/>
<rect x="1302" y="556" width="1" height="5" fill="#c0c0c0"/>
<rect x="1310" y="553" width="1" height="8" fill="#c0c0c0"/>
<rect x="1318" y="550" width="1" height="11" fill="#c0c0c0"/>
</g>
<polyline points="6.0,552.0 60.0,552.0 90.0,551.0 96.0,548.7 110.0,546.4 120.0,546.4 130.0,544.5 160.0,544.5 168.0,546.0 175.0,547.4 200.0,547.4 212.7,545.3 222.9,544.4 238.0,543.5 266.0,543.5 276.0,545.3 289.0,546.3 296.6,547.4 308.0,550.5 320.7,553.3 332.0,555.6 339.8,557.5 350.0,562.2 360.0,567.3 372.9,573.7 385.6,579.4 398.0,584.5 409.7,589.0 420.0,590.9 427.6,592.1 445.4,592.1 464.5,591.5 483.5,590.4 501.3,588.3 511.5,587.4 524.2,583.8 542.0,581.3 553.5,578.1 563.6,575.2 578.9,573.4 598.0,571.1 623.4,570.1 629.7,569.2 640.0,568.9 655.3,568.3 660.3,566.3 673.0,565.4 680.7,563.5 690.8,561.2 703.5,559.0 716.3,556.5 729.0,553.3 741.7,550.5 754.4,547.6 767.0,546.3 779.8,544.4 792.5,542.9 805.2,542.3 825.6,542.3 830.6,544.2 843.4,546.3 856.0,550.2 860.0,552.3 866.4,554.4 872.7,557.1 879.0,559.7 889.2,563.5 898.0,565.8 910.8,569.2 923.5,572.4 936.3,574.3 955.3,576.8 974.4,579.4 993.5,581.6 1006.2,584.5 1025.2,586.4 1044.3,588.9 1055.7,589.6 1060.8,588.3 1080.0,588.3 1092.7,586.4 1105.4,583.8 1118.1,581.0 1137.2,578.5 1153.7,576.2 1162.6,574.3 1223.6,574.3 1238.9,572.4 1249.0,570.9 1260.5,568.3 1273.3,566.5 1285.7,564.4 1291.9,562.9 1298.0,561.5 1304.2,560.4 1310.4,559.4 1318.0,558.5" fill="none" stroke="#ff0000" stroke-width="1" stroke-dasharray="3,3" shape-rendering="crispEdges"/>
</g>
<g clip-path="url(#cr)">
<g shape-rendering="crispEdges">
<line x1="6" y1="639.5" x2="1668" y2="639.5" stroke="#c0c0c0" stroke-dasharray="4,4"/>
<line x1="6" y1="689.5" x2="1668" y2="689.5" stroke="#c0c0c0" stroke-dasharray="4,4"/>
</g>
<polyline points="6.7,652.3 14.3,655.2 22.9,656.2 38.1,664.3 46.1,660.0 54.3,670.8 62.5,646.0 69.6,644.1 78.2,640.3 86.7,640.3 102.0,659.0 110.6,661.3 118.2,662.4 125.8,661.3 134.4,655.2 149.7,654.2 158.2,656.2 165.9,658.6 174.5,651.4 182.0,648.5 190.7,646.0 198.3,641.5 205.0,639.0 214.5,643.8 222.1,646.6 230.7,659.4 238.3,664.3 246.0,662.4 254.5,659.4 262.2,658.6 270.7,658.6 278.4,665.1 286.0,656.2 294.6,670.4 303.1,675.2 318.4,673.3 327.0,674.6 333.6,682.8 342.2,697.1 349.8,698.5 358.4,696.2 366.0,698.1 374.2,699.4 382.2,685.3 390.8,680.4 398.4,684.2 407.0,684.2 414.6,681.3 422.6,685.3 430.8,685.3 438.4,682.3 446.6,688.6 454.6,687.2 469.9,688.6 478.5,680.0 486.1,678.1 494.7,673.3 502.3,672.4 510.0,670.5 518.0,672.4 526.1,668.5 534.7,674.3 542.0,675.2 550.0,669.5 557.6,667.6 566.2,666.3 573.8,675.2 582.0,679.0 590.0,663.4 598.6,666.6 606.2,675.2 614.4,669.5 622.4,674.3 630.0,664.3 646.3,664.3 655.7,654.8 663.3,653.3 670.6,651.4 678.6,653.7 686.2,652.3 695.4,652.3 704.3,648.5 711.0,647.2 718.6,644.1 726.6,637.7 733.9,642.2 742.5,642.2 750.7,649.5 758.7,648.5 766.3,647.2 774.9,638.4 783.1,639.0 790.1,639.0 798.7,645.7 806.3,650.4 814.0,663.8 822.5,678.5 830.7,684.7 838.8,681.3 846.4,682.3 854.0,681.3 861.6,680.4 870.2,683.4 878.8,683.4 886.4,686.1 895.0,687.6 902.6,691.0 910.2,693.3 918.4,681.3 926.5,683.4 934.0,681.3 942.7,688.6 950.3,688.6 958.0,689.1 966.5,702.5 974.1,700.0 982.3,698.2 990.0,697.4 998.3,689.5 1006.2,694.1 1014.1,696.2 1021.8,696.2 1030.1,695.1 1038.0,698.2 1046.1,685.8 1054.0,682.2 1062.4,687.0 1070.3,682.2 1078.6,681.2 1086.3,676.6 1094.0,670.8 1102.3,669.3 1110.2,670.4 1118.5,681.2 1126.4,679.1 1135.1,679.1 1142.4,677.0 1150.7,681.2 1159.0,685.0 1165.9,686.4 1174.7,683.9 1182.6,685.0 1190.3,690.1 1198.6,676.6 1206.3,671.2 1214.2,659.4 1222.1,664.1 1230.4,667.3 1238.1,662.1 1246.4,658.3 1254.7,664.1 1262.4,658.3 1270.3,660.0 1278.7,656.2 1286.6,654.2 1294.9,647.9 1302.6,651.5 1310.9,638.1 1318.0,641.3" fill="none" stroke="#1e90ff" stroke-width="1"/>
</g>
<g shape-rendering="crispEdges">
<rect x="5" y="35" width="1664" height="1" fill="#000"/>
<rect x="5" y="533" width="1664" height="1" fill="#000"/>
<rect x="5" y="35" width="1" height="499" fill="#000"/>
<rect x="1668" y="35" width="1" height="499" fill="#000"/>
<rect x="5" y="535" width="1664" height="1" fill="#000"/>
<rect x="5" y="596" width="1664" height="1" fill="#000"/>
<rect x="5" y="535" width="1" height="62" fill="#000"/>
<rect x="1668" y="535" width="1" height="62" fill="#000"/>
<rect x="5" y="599" width="1664" height="1" fill="#000"/>
<rect x="5" y="728" width="1664" height="1" fill="#000"/>
<rect x="5" y="599" width="1" height="130" fill="#000"/>
<rect x="1668" y="599" width="1" height="130" fill="#000"/>
<rect x="1669" y="73" width="3" height="1" fill="#000"/>
<rect x="1669" y="122" width="3" height="1" fill="#000"/>
<rect x="1669" y="171" width="3" height="1" fill="#000"/>
<rect x="1669" y="220" width="3" height="1" fill="#000"/>
<rect x="1669" y="269" width="3" height="1" fill="#000"/>
<rect x="1669" y="318" width="3" height="1" fill="#000"/>
<rect x="1669" y="367" width="3" height="1" fill="#000"/>
<rect x="1669" y="416" width="3" height="1" fill="#000"/>
<rect x="1669" y="465" width="3" height="1" fill="#000"/>
<rect x="1669" y="514" width="3" height="1" fill="#000"/>
<rect x="1669" y="537" width="2" height="1" fill="#000"/>
<rect x="1669" y="560" width="2" height="1" fill="#000"/>
<rect x="1669" y="596" width="2" height="1" fill="#000"/>
<rect x="1669" y="601" width="2" height="1" fill="#000"/>
<rect x="1669" y="727" width="2" height="1" fill="#000"/>
<rect x="1669" y="639" width="2" height="1" fill="#c8c8c8"/>
<rect x="1669" y="689" width="2" height="1" fill="#c8c8c8"/>
<rect x="6" y="729" width="1" height="3" fill="#000"/>
<rect x="102" y="729" width="1" height="3" fill="#000"/>
<rect x="198" y="729" width="1" height="3" fill="#000"/>
<rect x="294" y="729" width="1" height="3" fill="#000"/>
<rect x="390" y="729" width="1" height="3" fill="#000"/>
<rect x="486" y="729" width="1" height="3" fill="#000"/>
<rect x="582" y="729" width="1" height="3" fill="#000"/>
<rect x="678" y="729" width="1" height="3" fill="#000"/>
<rect x="774" y="729" width="1" height="3" fill="#000"/>
<rect x="870" y="729" width="1" height="3" fill="#000"/>
<rect x="966" y="729" width="1" height="3" fill="#000"/>
<rect x="1062" y="729" width="1" height="3" fill="#000"/>
<rect x="1158" y="729" width="1" height="3" fill="#000"/>
<rect x="1254" y="729" width="1" height="3" fill="#000"/>
</g>
<polygon points="1329,36 1340,36 1334.5,42" fill="#c0c0c0"/>
<text x="1675.2" y="78" font-size="12.3" fill="#000" textLength="45.3" lengthAdjust="spacingAndGlyphs">1322.70</text>
<text x="1675.2" y="127" font-size="12.3" fill="#000" textLength="45.3" lengthAdjust="spacingAndGlyphs">1316.50</text>
<text x="1675.2" y="176" font-size="12.3" fill="#000" textLength="45.3" lengthAdjust="spacingAndGlyphs">1310.30</text>
<text x="1675.2" y="225" font-size="12.3" fill="#000" textLength="45.3" lengthAdjust="spacingAndGlyphs">1304.10</text>
<text x="1675.2" y="274" font-size="12.3" fill="#000" textLength="45.3" lengthAdjust="spacingAndGlyphs">1297.90</text>
<text x="1675.2" y="323" font-size="12.3" fill="#000" textLength="45.3" lengthAdjust="spacingAndGlyphs">1291.80</text>
<text x="1675.2" y="421" font-size="12.3" fill="#000" textLength="45.3" lengthAdjust="spacingAndGlyphs">1279.40</text>
<text x="1675.2" y="470" font-size="12.3" fill="#000" textLength="45.3" lengthAdjust="spacingAndGlyphs">1273.20</text>
<text x="1675.2" y="519" font-size="12.3" fill="#000" textLength="45.3" lengthAdjust="spacingAndGlyphs">1267.00</text>
<g shape-rendering="crispEdges">
<rect x="1670" y="247" width="56" height="14" fill="#ff0000"/>
<rect x="1670" y="353" width="56" height="13" fill="#000000"/>
<rect x="1670" y="366" width="56" height="14" fill="#00ff7f"/>
<rect x="1670" y="445" width="56" height="13" fill="#0000ff"/>
</g>
<text x="1675.2" y="258.6" font-size="12.3" fill="#fff" textLength="45.3" lengthAdjust="spacingAndGlyphs">1300.00</text>
<text x="1675.2" y="365" font-size="12.3" fill="#fff" textLength="45.3" lengthAdjust="spacingAndGlyphs">1286.49</text>
<text x="1675.2" y="378" font-size="12.3" fill="#fff" textLength="45.3" lengthAdjust="spacingAndGlyphs">1285.00</text>
<text x="1675.2" y="456.5" font-size="12.3" fill="#fff" textLength="45.3" lengthAdjust="spacingAndGlyphs">1275.00</text>
<text x="1671.5" y="549" font-size="12.3" fill="#000" textLength="32.2" lengthAdjust="spacingAndGlyphs">4.207</text>
<text x="1671.8" y="565" font-size="12.3" fill="#000" textLength="24.5" lengthAdjust="spacingAndGlyphs">0.00</text>
<text x="1671.5" y="594" font-size="12.3" fill="#000" textLength="36" lengthAdjust="spacingAndGlyphs">-6.633</text>
<text x="1671.6" y="613" font-size="12.3" fill="#000" textLength="21" lengthAdjust="spacingAndGlyphs">100</text>
<text x="1671" y="644.6" font-size="12.3" fill="#000" textLength="13.3" lengthAdjust="spacingAndGlyphs">70</text>
<text x="1670.7" y="694.3" font-size="12.3" fill="#000" textLength="13.3" lengthAdjust="spacingAndGlyphs">30</text>
<text x="1671.8" y="725.4" font-size="12.3" fill="#000" textLength="6.5" lengthAdjust="spacingAndGlyphs">0</text>
<text x="5.2" y="744.3" font-size="12.3" fill="#000" textLength="69.5" lengthAdjust="spacingAndGlyphs">19 Mar 2019</text>
<text x="101.2" y="744.3" font-size="12.3" fill="#000" textLength="73.5" lengthAdjust="spacingAndGlyphs">21 Mar 12:00</text>
<text x="197.2" y="744.3" font-size="12.3" fill="#000" textLength="73.5" lengthAdjust="spacingAndGlyphs">25 Mar 12:00</text>
<text x="293.2" y="744.3" font-size="12.3" fill="#000" textLength="73.5" lengthAdjust="spacingAndGlyphs">27 Mar 12:00</text>
<text x="389.2" y="744.3" font-size="12.3" fill="#000" textLength="73.5" lengthAdjust="spacingAndGlyphs">29 Mar 12:00</text>
<text x="485.2" y="744.3" font-size="12.3" fill="#000" textLength="66" lengthAdjust="spacingAndGlyphs">2 Apr 12:00</text>
<text x="581.2" y="744.3" font-size="12.3" fill="#000" textLength="66" lengthAdjust="spacingAndGlyphs">4 Apr 12:00</text>
<text x="677.2" y="744.3" font-size="12.3" fill="#000" textLength="66" lengthAdjust="spacingAndGlyphs">8 Apr 12:00</text>
<text x="773.2" y="744.3" font-size="12.3" fill="#000" textLength="73.5" lengthAdjust="spacingAndGlyphs">10 Apr 12:00</text>
<text x="869.2" y="744.3" font-size="12.3" fill="#000" textLength="73.5" lengthAdjust="spacingAndGlyphs">12 Apr 12:00</text>
<text x="965.2" y="744.3" font-size="12.3" fill="#000" textLength="73.5" lengthAdjust="spacingAndGlyphs">16 Apr 12:00</text>
<text x="1061.2" y="744.3" font-size="12.3" fill="#000" textLength="73.5" lengthAdjust="spacingAndGlyphs">18 Apr 12:00</text>
<text x="1157.2" y="744.3" font-size="12.3" fill="#000" textLength="73.5" lengthAdjust="spacingAndGlyphs">23 Apr 08:00</text>
<text x="1253.2" y="744.3" font-size="12.3" fill="#000" textLength="73.5" lengthAdjust="spacingAndGlyphs">25 Apr 08:00</text>
<polygon points="9,48 13.5,43 18,48" fill="#000"/>
<text x="23.2" y="50.3" font-size="12.3" fill="#000" textLength="69.5" lengthAdjust="spacingAndGlyphs">XAUUSD-,H4</text>
<text x="100.8" y="50.3" font-size="12.3" fill="#000" textLength="196.5" lengthAdjust="spacingAndGlyphs">1287.43 1288.58 1285.88 1286.49</text>
<text x="10" y="551.3" font-size="12.3" fill="#000" textLength="156.5" lengthAdjust="spacingAndGlyphs">MACD(12,26,9) 1.865 0.410</text>
<text x="9.2" y="615.8" font-size="12.3" fill="#000" textLength="92.5" lengthAdjust="spacingAndGlyphs">RSI(14) 67.6307</text>
<g shape-rendering="crispEdges">
<path d="M9,58 H78 V85 H150 V134 H9 Z" fill="url(#rg)"/>
<path d="M9.5,58.5 H77.5 V85.5 H149.5 V133.5 H9.5 Z" fill="none" stroke="#b80000" stroke-width="1"/>
<path d="M224,58 H292 V134 H152 V85 H224 Z" fill="url(#rg)"/>
<path d="M224.5,58.5 H291.5 V133.5 H152.5 V85.5 H224.5 Z" fill="none" stroke="#b80000" stroke-width="1"/>
<rect x="13" y="84" width="61" height="1" fill="#8c0000"/><rect x="13" y="85" width="61" height="1" fill="#f07070"/>
<rect x="228" y="84" width="61" height="1" fill="#8c0000"/><rect x="228" y="85" width="61" height="1" fill="#f07070"/>
<rect x="79" y="58" width="143" height="25" fill="#fff"/>
<rect x="79.5" y="58.5" width="142" height="24" fill="none" stroke="#a8a8b0"/>
<rect x="81" y="60" width="22" height="21" fill="url(#bg)"/>
<rect x="80.5" y="59.5" width="23" height="22" fill="none" stroke="#c8c8c8"/>
<rect x="103" y="59" width="1" height="23" fill="#a0a0a8"/>
<rect x="198" y="60" width="22" height="21" fill="url(#bg)"/>
<rect x="197.5" y="59.5" width="23" height="22" fill="none" stroke="#c8c8c8"/>
<rect x="197" y="59" width="1" height="23" fill="#a0a0a8"/>
</g>
<polygon points="88,69 95.5,69 91.75,73" fill="#5566c8"/>
<polygon points="205.5,72 213,72 209.25,68" fill="#5566c8"/>
<text x="163" y="76" font-size="14" fill="#000" textLength="30.8" lengthAdjust="spacingAndGlyphs">1.00</text>
<text x="25.6" y="77.6" font-size="15.6" fill="#fff" textLength="34.4" lengthAdjust="spacingAndGlyphs">SELL</text>
<text x="242.6" y="77.6" font-size="15.6" fill="#fff" textLength="31" lengthAdjust="spacingAndGlyphs">BUY</text>
<text x="39.2" y="123.6" font-size="14.6" fill="#fff" font-weight="bold" textLength="36.8" lengthAdjust="spacingAndGlyphs">1286</text>
<text x="77.6" y="123.6" font-size="40.5" fill="#fff" textLength="46" lengthAdjust="spacingAndGlyphs">48</text>
<text x="180.8" y="123.2" font-size="14.6" fill="#fff" font-weight="bold" textLength="36.8" lengthAdjust="spacingAndGlyphs">1286</text>
<text x="222.3" y="123.2" font-size="40.5" fill="#fff" textLength="43.6" lengthAdjust="spacingAndGlyphs">83</text>
</svg></body></html>
